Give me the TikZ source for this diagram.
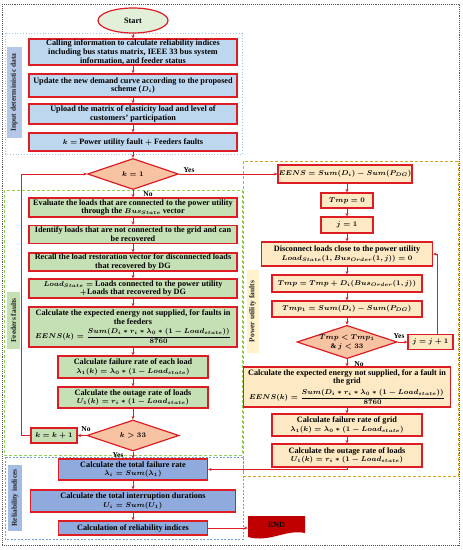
\documentclass[tikz,border=0pt]{standalone}
\usepackage{amsmath}
\usepackage{fontspec}
\setmainfont{Liberation Serif}
\usetikzlibrary{shapes.geometric,arrows.meta}
\definecolor{bred}{HTML}{DD1C24}
\definecolor{endred}{HTML}{C00000}
\definecolor{inblue}{HTML}{BDD7EE}
\definecolor{inlbl}{HTML}{B4C7E7}
\definecolor{grfill}{HTML}{C5E0B4}
\definecolor{orfill}{HTML}{FDE9C4}
\definecolor{orlbl}{HTML}{FFF2CC}
\definecolor{dmfill}{HTML}{F7C3A3}
\definecolor{relfill}{HTML}{8FAADC}
\definecolor{rellbl}{HTML}{A4BCE4}
\definecolor{startfill}{HTML}{E2F0D9}
\definecolor{inreg}{HTML}{9DC3E6}
\definecolor{grreg}{HTML}{92D050}
\definecolor{orreg}{HTML}{D9A520}
\definecolor{relreg}{HTML}{6FA0DC}
\newcommand{\mth}[1]{{\fontsize{7}{8}\selectfont\boldmath$#1$}}
\begin{document}
\begin{tikzpicture}[x=1pt,y=-1pt,
  font=\fontsize{8.2}{8.8}\selectfont\bfseries\boldmath,
  sz/.style 2 args={minimum width=#1, minimum height=#2},
  bx/.style={draw=bred, line width=1.2pt, align=center, inner sep=0.5pt, text=black},
  inbox/.style={bx, fill=inblue},
  gbox/.style={bx, fill=grfill},
  obox/.style={bx, fill=orfill},
  rbox/.style={bx, fill=relfill},
  dmd/.style={diamond, aspect=3, draw=bred, line width=1.2pt, fill=dmfill, inner sep=0pt, align=center},
  arr/.style={draw=bred, line width=0.8pt, -{Stealth[length=3.5pt,width=3pt]}},
  lbl/.style={rotate=90, inner sep=0pt, text=black!85, font=\fontsize{7.5}{8}\selectfont\bfseries},
  yn/.style={inner sep=0pt, text=black, font=\fontsize{7.5}{8}\selectfont\bfseries}
]
\fill[white] (0,0) rectangle (463,550);
\useasboundingbox (0,0) rectangle (463,550);
% regions
\draw[black!65, line width=0.9pt, densely dotted] (2,4) rectangle (459,545);
\draw[inreg, line width=0.8pt, dotted] (5,33) rectangle (242,154);
\draw[grreg, line width=0.8pt, dash pattern=on 3pt off 2pt] (4,190) rectangle (242,455);
\draw[orreg, line width=1pt, dash pattern=on 3pt off 2pt] (243,161) rectangle (458,476);
\draw[relreg, line width=0.8pt, dash pattern=on 2pt off 1.5pt] (5,457) rectangle (243,539);
% region labels
\node[lbl, fill=inlbl, sz={91pt}{15pt}] (lin) at (14,92.5) {Input deterministic data};
\node[lbl, fill=grfill, sz={57pt}{13pt}] (lff) at (13.5,320.5) {Feeders faults};
\node[lbl, fill=orlbl, sz={83pt}{12pt}] (lpu) at (252.5,311.5) {Power utility faults};
\node[lbl, fill=rellbl, sz={66pt}{14pt}] (lri) at (15,498) {Reliability indices};
% left column
\node[ellipse, draw=bred, line width=1.2pt, fill=startfill, sz={70pt}{25pt}, inner sep=0pt] (start) at (133,20.5) {Start};
\node[inbox, sz={208pt}{26pt}] (b1) at (133,52) {Calling information to calculate reliability indices\\including bus status matrix, IEEE 33 bus system\\information, and feeder status};
\node[inbox, sz={208pt}{23pt}] (b2) at (133,85.5) {Update the new demand curve according to the proposed\\scheme (\mth{D_i})};
\node[inbox, sz={208pt}{20pt}] (b3) at (133,114) {Upload the matrix of elasticity load and level of\\customers' participation};
\node[inbox, sz={208pt}{18pt}] (b4) at (133,142) {\mth{k=} Power utility fault \mth{+} Feeders faults};
\node[dmd, sz={91pt}{31pt}] (d1) at (133,174) {\mth{k=1}};
\node[gbox, sz={208pt}{19pt}] (g1) at (133,207.5) {Evaluate the loads that are connected to the power utility\\through the \mth{Bus_{State}} vector};
\node[gbox, sz={208pt}{18pt}] (g2) at (133,234.5) {Identify loads that are not connected to the grid and can\\be recovered};
\node[gbox, sz={208pt}{18pt}] (g3) at (133,262) {Recall the load restoration vector for disconnected loads\\that recovered by DG};
\node[gbox, sz={208pt}{19pt}] (g4) at (133,288.5) {\mth{Load_{State}=} Loads connected to the power utility\\\mth{+}Loads that recovered by DG};
\node[gbox, sz={208pt}{40pt}] (g5) at (133,327) {Calculate the expected energy not supplied, for faults in\\the feeders\\[2.5pt]\mth{EENS(k)=\dfrac{Sum(D_i\ast r_i\ast \lambda_0\ast(1-Load_{state}))}{8760}}};
\node[gbox, sz={150pt}{22pt}] (g6) at (133,367) {Calculate failure rate of each load\\\mth{\lambda_1(k)=\lambda_0\ast(1-Load_{state})}};
\node[gbox, sz={150pt}{21pt}] (g7) at (133,397.5) {Calculate the outage rate of loads\\\mth{U_1(k)=r_i\ast(1-Load_{state})}};
\node[dmd, sz={92pt}{31pt}] (d2) at (133,435.5) {\mth{k>33}};
\node[gbox, sz={46pt}{15pt}] (kk) at (54,435.5) {\mth{k=k+1}};
\node[rbox, sz={149pt}{21pt}] (r1) at (133,469.5) {Calculate the total failure rate\\\mth{\lambda_i=Sum(\lambda_1)}};
\node[rbox, sz={205pt}{22pt}] (r2) at (133,501) {Calculate the total interruption durations\\\mth{U_i=Sum(U_1)}};
\node[rbox, sz={149pt}{14pt}] (r3) at (133,528) {Calculation of reliability indices};
% END
\fill[endred] (248,516) -- (305,516) -- (305,533) .. controls (285,529) and (270,543) .. (248,537) -- cycle;
\node[inner sep=0pt, sz={57pt}{18pt}, text=black, font=\fontsize{8}{8}\selectfont\bfseries] (endn) at (276.5,525) {END};
% right column
\node[obox, sz={134pt}{18pt}] (o1) at (345,174) {\mth{EENS=Sum(D_i)-Sum(P_{DG})}};
\node[obox, sz={52pt}{15pt}] (o2) at (347,200.5) {\mth{Tmp=0}};
\node[obox, sz={52pt}{16pt}] (o3) at (347,225) {\mth{j=1}};
\node[obox, sz={171pt}{24pt}] (o4) at (347,254) {Disconnect loads close to the power utility\\[1pt]\mth{Load_{State}(1,Bus_{Order}(1,j))=0}};
\node[obox, sz={150pt}{17pt}] (o5) at (347,283.5) {\mth{Tmp=Tmp+D_i(Bus_{Order}(1,j))}};
\node[obox, sz={150pt}{16pt}] (o6) at (347,309) {\mth{Tmp_1=Sum(D_i)-Sum(P_{DG})}};
\node[dmd, sz={99pt}{31pt}] (d3) at (347,342) {\mth{Tmp<Tmp_1}\\\mth{\&\ j<33}};
\node[obox, sz={45pt}{15pt}] (jj) at (430.5,342) {\mth{j=j+1}};
\node[obox, sz={207pt}{40pt}] (o7) at (347,387) {Calculate the expected energy not supplied, for a fault in\\the grid\\[2.5pt]\mth{EENS(k)=\dfrac{Sum(D_i\ast r_i\ast \lambda_0\ast(1-Load_{state}))}{8760}}};
\node[obox, sz={150pt}{22pt}] (o8) at (347,425) {Calculate failure rate of grid\\\mth{\lambda_1(k)=\lambda_0\ast(1-Load_{state})}};
\node[obox, sz={150pt}{23pt}] (o9) at (347,455.5) {Calculate the outage rate of loads\\\mth{U_1(k)=r_i\ast(1-Load_{state})}};
% yes/no labels
\node[yn] (y1) at (189,170) {Yes};
\node[yn] (n1) at (148,194) {No};
\node[yn] (n2) at (86,429) {No};
\node[yn] (y2) at (118,455) {Yes};
\node[yn] (y3) at (399,336) {Yes};
\node[yn] (n3) at (359,364) {No};
% arrows left
\draw[arr] (start) -- (b1);
\draw[arr] (b1) -- (b2);
\draw[arr] (b2) -- (b3);
\draw[arr] (b3) -- (b4);
\draw[arr] (b4) -- (d1);
\draw[arr] (d1) -- (g1);
\draw[arr] (g1) -- (g2);
\draw[arr] (g2) -- (g3);
\draw[arr] (g3) -- (g4);
\draw[arr] (g4) -- (g5);
\draw[arr] (g5) -- (g6);
\draw[arr] (g6) -- (g7);
\draw[arr] (g7) -- (d2);
\draw[arr] (d2.west) -- (kk.east);
\draw[arr] (kk.west) -- ++(-9,0) |- (d1.west);
\draw[arr] (d2) -- (r1);
\draw[arr] (r1) -- (r2);
\draw[arr] (r2) -- (r3);
\draw[arr] (r3.east) -- (r3.east -| endn.west);
% arrows right
\draw[arr] (d1.east) -- (o1.west);
\draw[arr] (o1.south -| o2.north) -- (o2.north);
\draw[arr] (o2) -- (o3);
\draw[arr] (o3) -- (o4);
\draw[arr] (o4) -- (o5);
\draw[arr] (o5) -- (o6);
\draw[arr] (o6) -- (d3);
\draw[arr] (d3.east) -- (jj.west);
\draw[arr] ([xshift=6.5pt]jj.north) |- (o4.east);
\draw[arr] (d3) -- (o7);
\draw[arr] (o7) -- (o8);
\draw[arr] (o8) -- (o9);
\draw[arr] (o9.south) |- (r1.east);
\end{tikzpicture}
\end{document}
